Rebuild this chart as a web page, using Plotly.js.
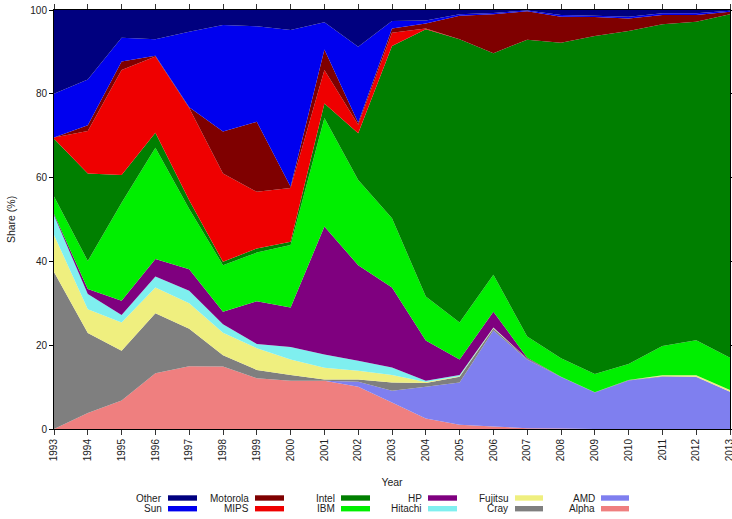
<!DOCTYPE html>
<html>
<head>
<meta charset="utf-8">
<script src="https://cdn.plot.ly/plotly-3.0.1.min.js"></script>
<style>html,body{margin:0;padding:0;background:#fff;}#chart{width:732px;height:519px;}</style>
</head>
<body>
<div id="chart"></div>
<script>
const years = [1993,1994,1995,1996,1997,1998,1999,2000,2001,2002,2003,2004,2005,2006,2007,2008,2009,2010,2011,2012,2013];

const alpha    = [0,3.8,6.8,13.3,15,14.9,12.1,11.5,11.5,10.1,6.3,2.5,1,0.6,0.2,0.1,0,0,0,0,0];
const amd      = [0,0,0,0,0,0,0,0,0,1.2,2.8,7.6,10.1,22.9,16.4,12.3,8.7,11.6,12.5,12.4,8.9];
const cray     = [37.5,19.1,11.9,14.3,8.9,2.7,2,1.4,0.3,0.5,2,0.9,1.4,0.5,0.2,0.1,0.1,0.1,0.1,0.1,0];
const fujitsu  = [8.8,5.7,6.7,6.2,6.1,5.4,5.2,3.7,2.8,2.1,1.8,0.2,0.1,0.1,0,0,0,0,0.2,0.3,0.4];
const hitachi  = [4.7,3.6,1.8,2.6,3,2,1,3,3.2,2.4,1.8,0.3,0.3,0.1,0,0,0,0,0,0,0];
const hp       = [0.3,1.2,3.4,4.2,5.1,3,10.2,9.4,30.5,22.8,19.1,9.6,3.7,3.8,0.2,0,0,0,0,0,0];
const ibm      = [4.2,6.7,23.4,26.5,14.4,11.1,11.6,14.9,25.9,20.3,16.5,10.5,8.8,8.8,5.1,4.4,4.3,3.8,7,8.4,7.7];
const intel    = [13.8,20.9,6.6,3.6,2.1,0.8,1,0.8,3.5,11.2,41.1,63.8,67.6,52.9,70.8,75.3,80.7,79.5,76.8,76,82];
const mips     = [0.3,10.1,25.1,18.2,22,21.1,13.5,12.8,8,2,3.2,0.2,0,0,0,0,0,0,0,0,0];
const motorola = [0,1.4,2,0.2,0.2,10,16.7,0.3,4.9,0.5,1,1.2,5.6,9.3,6.8,6.2,4.5,3,2.2,1.6,0.6];
const sun      = [10.4,10.9,5.7,3.9,18,25.4,22.8,37.4,6.5,18.1,1.8,0.7,0.4,0.3,0.2,0.4,0.3,0.4,0.4,0.4,0.2];
const other    = [20,16.6,6.6,7,5.2,3.6,3.9,4.8,2.9,8.8,2.6,2.5,1,0.7,0.1,1.2,1.4,1.6,0.8,0.8,0.2];

// stacking order, bottom to top
const seriesNames  = ['Alpha','AMD','Cray','Fujitsu','Hitachi','HP','IBM','Intel','MIPS','Motorola','Sun','Other'];
const seriesValues = [alpha, amd, cray, fujitsu, hitachi, hp, ibm, intel, mips, motorola, sun, other];
const seriesColors = ['#EF7F7F','#7F7FEF','#7F7F7F','#EFEF7F','#7FEFEF','#7F007F','#00EF00','#007F00','#EF0000','#7F0000','#0000EF','#00007F'];

// legend layout: columns left to right, two rows each
const legendOrder = [['Other','Sun'],['Motorola','MIPS'],['Intel','IBM'],['HP','Hitachi'],['Fujitsu','Cray'],['AMD','Alpha']];

const W = 732, H = 519;
const M = {l:54, r:2, t:10, b:90};
const pw = W - M.l - M.r, ph = H - M.t - M.b;
const px2x = p => (p - M.l) / pw;
const px2y = p => (H - M.b - p) / ph;

const traces = seriesNames.map((n, i) => ({
  type: 'scatter',
  x: years,
  y: seriesValues[i],
  name: n,
  stackgroup: 'one',
  mode: 'none',
  fillcolor: seriesColors[i],
  line: {width: 0},
  showlegend: false,
  hoverinfo: 'x+y+name'
}));

const font = {family: '"Liberation Sans", Arial, Helvetica, sans-serif', size: 10, color: '#222'};

const colText = [164, 251, 337, 424, 510, 597];
const colSw = [[168,197],[255,284],[341,370],[428,457],[515,543],[601,629]];
const rowY = [498, 508.7];
const annotations = [];
const shapes = [];
legendOrder.forEach((col, c) => {
  col.forEach((name, r) => {
    const idx = seriesNames.indexOf(name);
    annotations.push({
      xref: 'paper', yref: 'paper',
      x: px2x(colText[c]), y: px2y(rowY[r]),
      xanchor: 'right', yanchor: 'middle',
      text: name, showarrow: false,
      font: {family: font.family, size: 10, color: '#222'}
    });
    shapes.push({
      type: 'rect', xref: 'paper', yref: 'paper',
      x0: px2x(colSw[c][0]), x1: px2x(colSw[c][1]),
      y0: px2y(rowY[r] - 2.7), y1: px2y(rowY[r] + 2.7),
      fillcolor: seriesColors[idx], line: {width: 0}
    });
  });
});

const layout = {
  width: W, height: H,
  margin: M,
  paper_bgcolor: '#fff', plot_bgcolor: '#fff',
  font: font,
  showlegend: false,
  xaxis: {
    range: [1993, 2013], tickvals: years, ticktext: years.map(String),
    tickangle: -90, ticks: 'outside', ticklen: 5, tickcolor: '#333',
    ticklabeloverflow: 'allow',
    showline: true, linecolor: '#000', linewidth: 1, mirror: 'ticks',
    showgrid: false, zeroline: false,
    tickfont: {family: font.family, size: 10, color: '#222'},
    title: {text: 'Year', font: {family: font.family, size: 10.5, color: '#222'}, standoff: 18}
  },
  yaxis: {
    range: [0, 100], tickvals: [0,20,40,60,80,100],
    ticks: 'outside', ticklen: 4, tickcolor: '#000',
    showline: true, linecolor: '#000', linewidth: 1, mirror: 'ticks',
    showgrid: false, zeroline: false,
    tickfont: {family: font.family, size: 10, color: '#222'},
    title: {text: 'Share (%)', font: {family: font.family, size: 10.5, color: '#222'}, standoff: 12}
  },
  annotations: annotations,
  shapes: shapes
};

Plotly.newPlot('chart', traces, layout, {displayModeBar: false, staticPlot: true});
</script>
</body>
</html>
